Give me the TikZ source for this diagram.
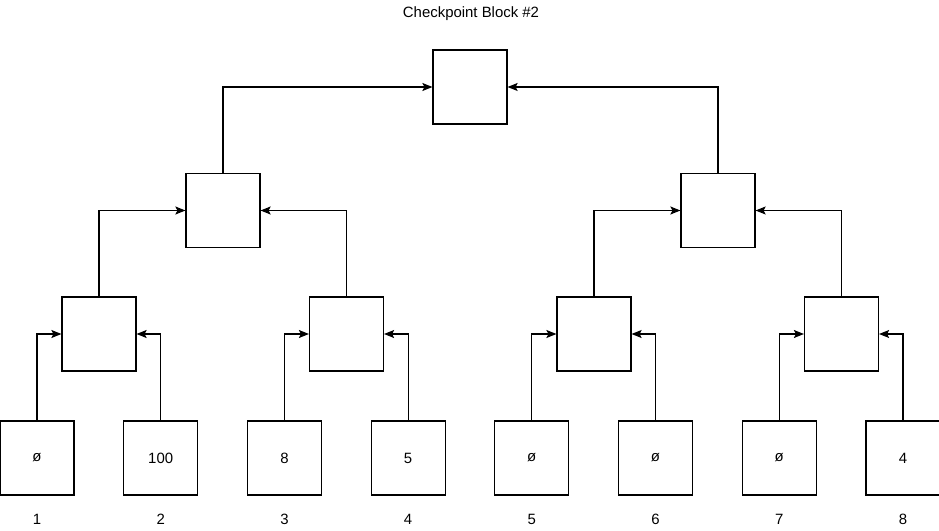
\documentclass[tikz,border=0pt]{standalone}
\usepackage{fontspec}
\setmainfont{Liberation Sans}
\usetikzlibrary{arrows.meta}

\begin{document}
\begin{tikzpicture}[x=0.75pt, y=-0.75pt, font=\fontsize{11.2}{13}\selectfont,
  blk/.style={draw, line width=0.9pt, minimum size=55.5pt, inner sep=0pt},
  link/.style={-{Stealth[length=7.5pt,width=6pt,inset=1.5pt]}, line width=0.9pt}]
  \useasboundingbox (0,0) rectangle (939,531);
  \def\dx{123.7}   % leaf spacing (px)
  % --- title ---
  \node (title) at (471,14) {Checkpoint Block \#2};
  % --- leaves with their values and indices ---
  \foreach \i/\v in {1/ø,2/100,3/8,4/5,5/ø,6/ø,7/ø,8/4} {
    \node[blk] (leaf\i) at ({37+\dx*(\i-1)},458) {\v};
    \node (num\i) at ({37+\dx*(\i-1)},519) {\i};
  }
  % --- inner levels ---
  \foreach \j in {1,...,4}
    \node[blk] (mid\j) at ({99+247.5*(\j-1)},334) {};
  \foreach \k in {1,2}
    \node[blk] (up\k) at ({223+495*(\k-1)},210.5) {};
  \node[blk] (root) at (470,87) {};
  % --- connectors ---
  \foreach \a/\b/\m in {1/2/1,3/4/2,5/6/3,7/8/4} {
    \draw[link] (leaf\a.north) |- (mid\m.west);
    \draw[link] (leaf\b.north) |- (mid\m.east);
  }
  \foreach \a/\b/\u in {1/2/1,3/4/2} {
    \draw[link] (mid\a.north) |- (up\u.west);
    \draw[link] (mid\b.north) |- (up\u.east);
  }
  \draw[link] (up1.north) |- (root.west);
  \draw[link] (up2.north) |- (root.east);
\end{tikzpicture}
\end{document}
